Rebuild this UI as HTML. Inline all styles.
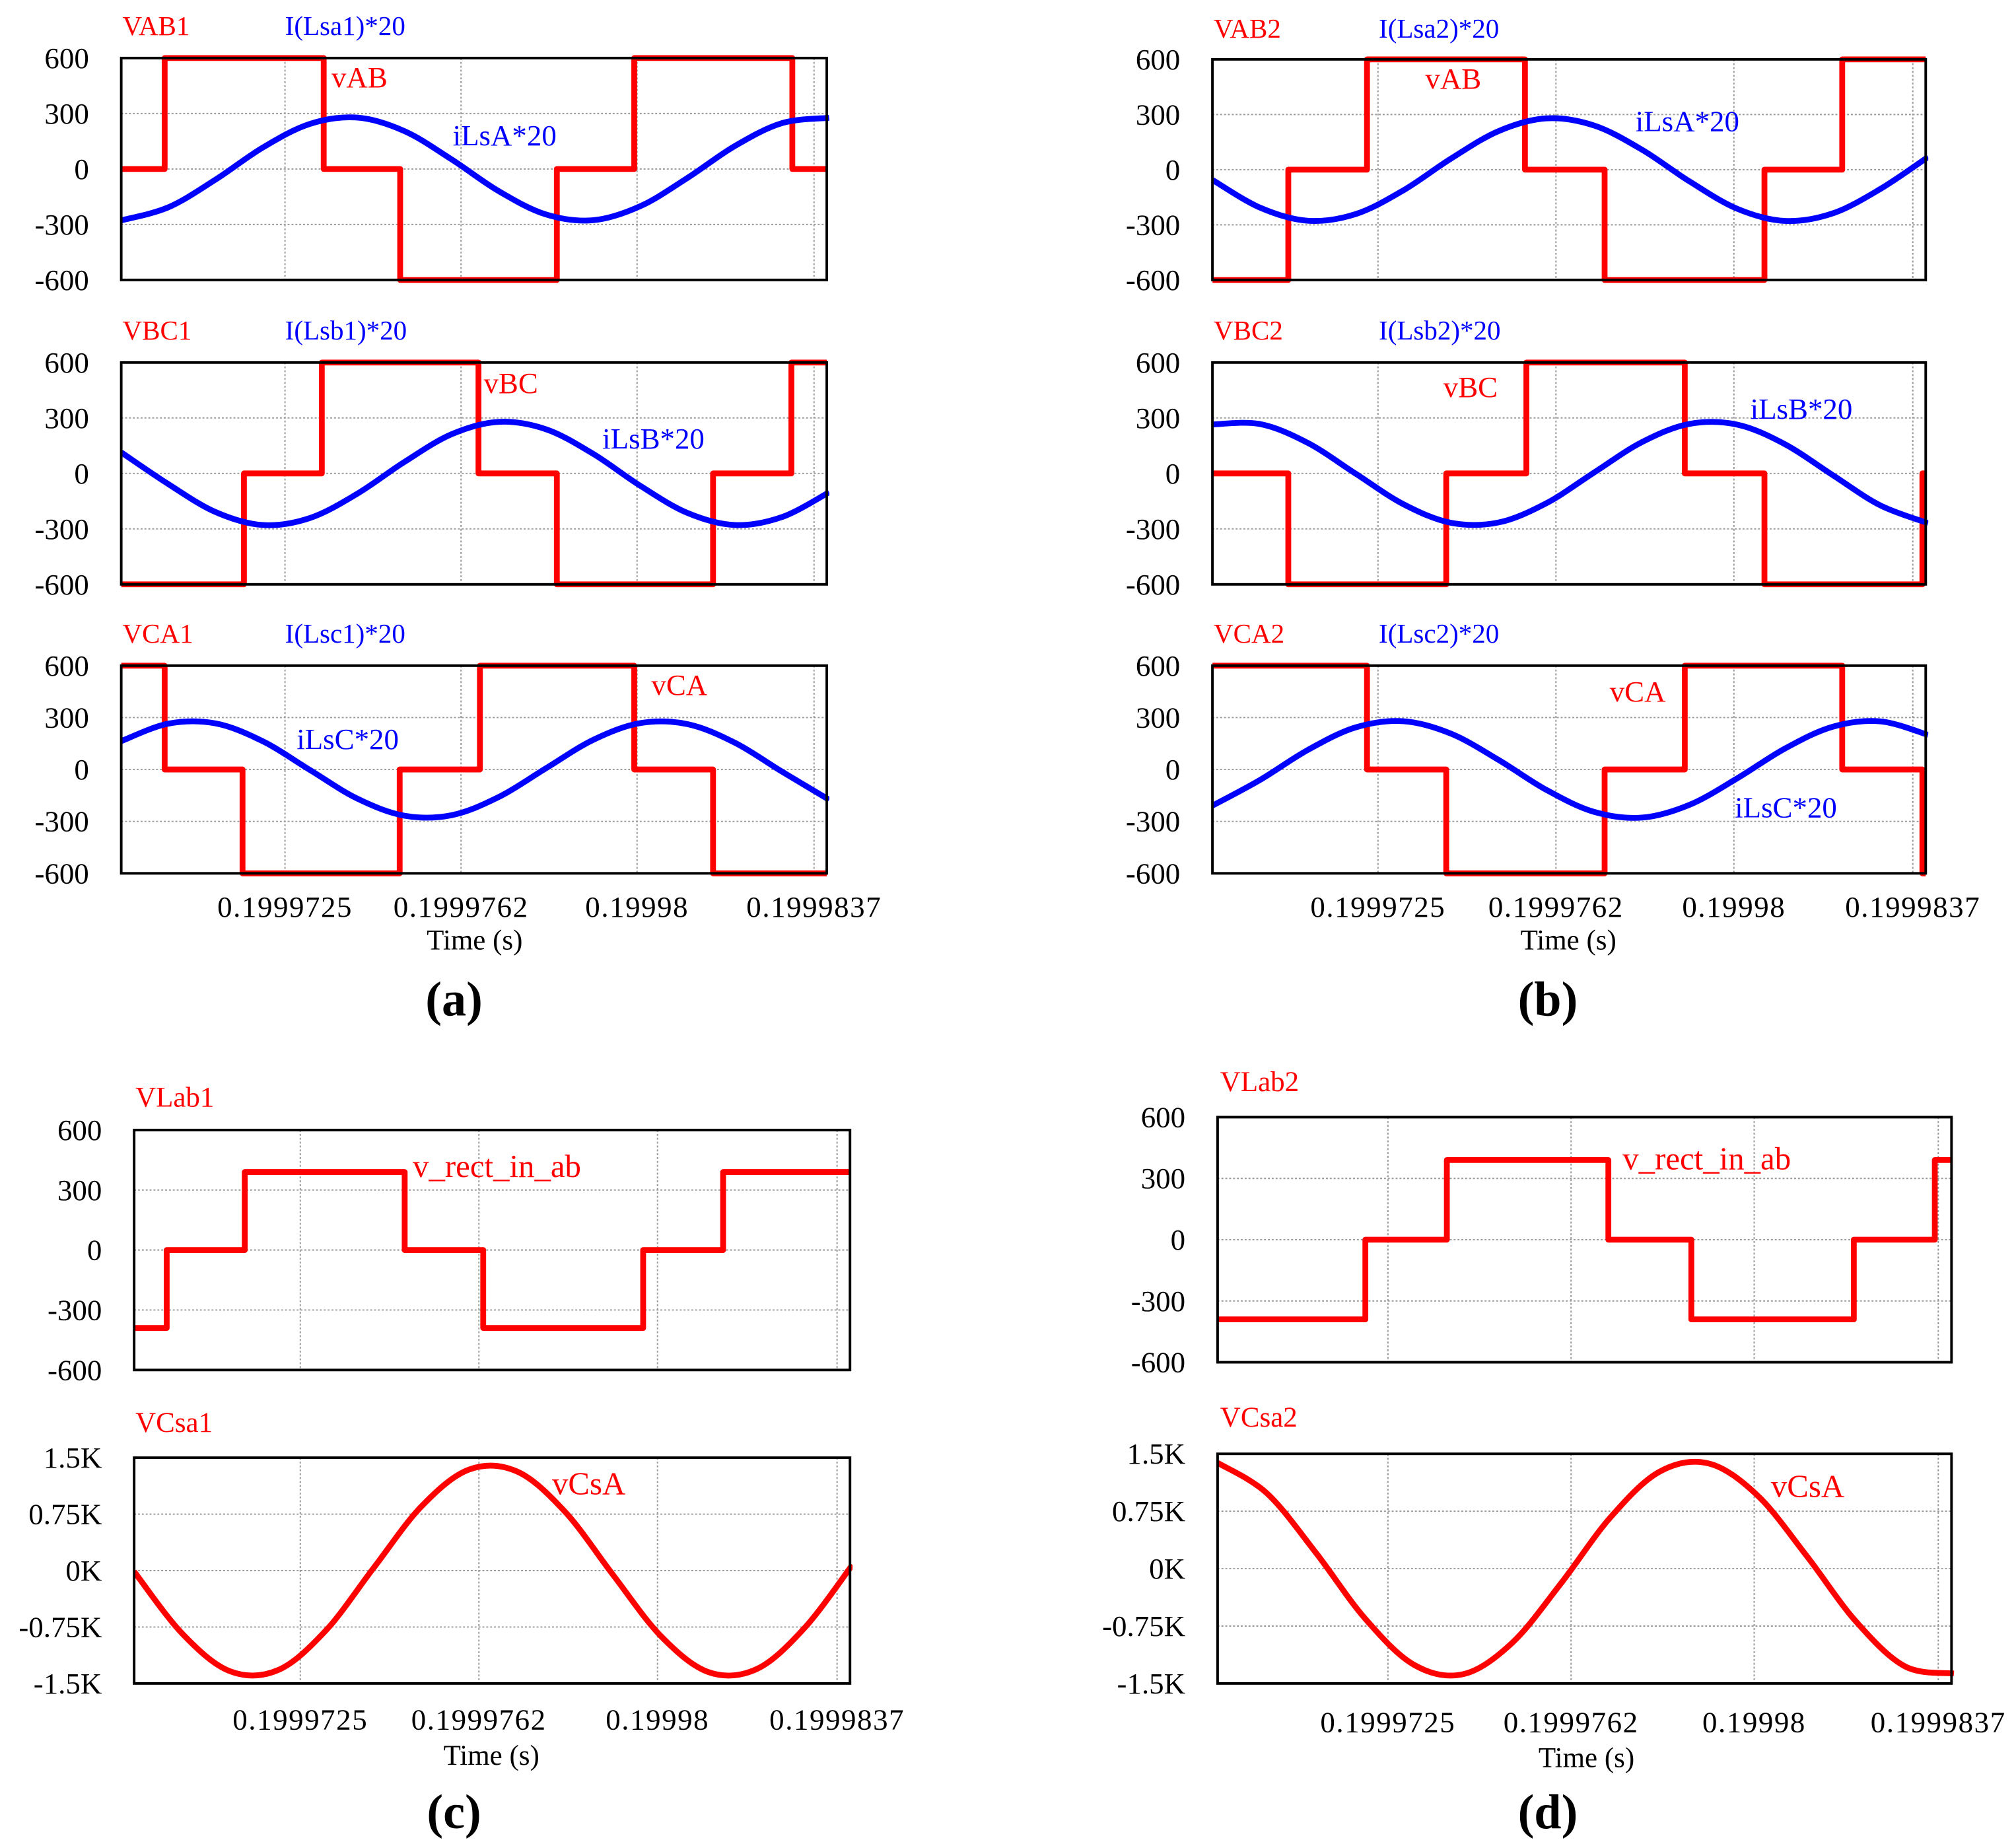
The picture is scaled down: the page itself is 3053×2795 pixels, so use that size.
<!DOCTYPE html>
<html><head><meta charset="utf-8">
<style>
html,body{margin:0;padding:0;background:#fff;}
svg{display:block;}
text{font-family:"Liberation Serif",serif;}
</style></head>
<body>
<svg id="fig" xmlns="http://www.w3.org/2000/svg" width="3053" height="2795" viewBox="0 0 1563 1431" preserveAspectRatio="none">
<rect x="0" y="0" width="1563" height="1431" fill="#fff"/>
<g id="root"></g>
</svg>
<script>
// ---- shared axis data ----
const timeRange = [0, 14.95]; // microseconds after 0.199969 s
const xTickTimes = [3.47, 7.2, 10.93, 14.68];
const xTickLabels = ['0.1999725', '0.1999762', '0.19998', '0.1999837'];
const vTicks = [600, 300, 0, -300, -600];
const vTickLabels = ['600', '300', '0', '-300', '-600'];
const kTicks = [1500, 750, 0, -750, -1500];
const kTickLabels = ['1.5K', '0.75K', '0K', '-0.75K', '-1.5K'];
const sampleT = [0,1,2,3,4,5,6,7,8,9,10,11,12,13,14,15];

// ---- panel (a) ----
const vAB1Edges = [0.92, 4.29, 5.91, 9.23, 10.87, 14.22];
const vAB1Levels = [0, 600, 0, -600, 0, 600, 0];
const vBC1Edges = [2.6, 4.25, 7.57, 9.23, 12.54, 14.2];
const vBC1Levels = [-600, 0, 600, 0, -600, 0, 600];
const vCA1Edges = [0.92, 2.57, 5.9, 7.6, 10.87, 12.54];
const vCA1Levels = [600, 0, -600, 0, 600, 0, -600];
const iLsA1 = [-278,-207,-57,116,244,278,205,52,-120,-246,-277,-201,-48,124,248,277];
const iLsB1 = [114,-58,-209,-279,-241,-110,62,212,279,239,106,-67,-214,-279,-236,-102];
const iLsC1 = [164,265,266,163,-3,-168,-267,-264,-159,7,171,268,262,155,-12,-175];

// ---- panel (b) ----
const vAB2Edges = [1.59, 3.24, 6.55, 8.22, 11.57, 13.2];
const vAB2Levels = [-600, 0, 600, 0, -600, 0, 600];
const vBC2Edges = [1.59, 4.9, 6.58, 9.9, 11.57, 14.88];
const vBC2Levels = [0, -600, 0, 600, 0, -600, 0];
const vCA2Edges = [3.24, 4.9, 8.22, 9.9, 13.2, 14.88];
const vCA2Levels = [600, 0, -600, 0, 600, 0, -600];
const iLsA2 = [-56,-207,-278,-242,-113,60,210,279,240,109,-64,-213,-279,-238,-105,69];
const iLsB2 = [265,267,165,-1,-166,-267,-265,-161,5,169,268,264,158,-9,-173,-269];
const iLsC2 = [-209,-60,113,243,279,207,55,-118,-245,-278,-204,-51,121,247,278,200];

// ---- panel (c) ----
const vLab1Edges = [0.68, 2.31, 5.65, 7.29, 10.63, 12.3];
const vLab1Levels = [-390, 0, 390, 0, -390, 0, 390];
const vCsA1 = [-13,-834,-1337,-1324,-799,34,853,1344,1316,781,-56,-870,-1350,-1309,-763,76];

// ---- panel (d) ----
const vLab2Edges = [3.01, 4.67, 7.96, 9.65, 12.96, 14.61];
const vLab2Levels = [-390, 0, 390, 0, -390, 0, 390];
const vCsA2 = [1383,987,210,-649,-1256,-1379,-970,-188,668,1266,1375,955,166,-687,-1276,-1370];

const NS = 'http://www.w3.org/2000/svg';
const root = document.getElementById('root');
const RED = '#ff0000', BLUE = '#0000ff';
let clipId = 0;

function mk(tag, attrs, parent) {
  const e = document.createElementNS(NS, tag);
  for (const k in attrs) e.setAttribute(k, attrs[k]);
  (parent || root).appendChild(e);
  return e;
}
function txt(s, x, y, size, color, anchor, name, weight) {
  const t = mk('text', {x: x, y: y, 'font-size': size, fill: color, 'text-anchor': anchor || 'start', 'dominant-baseline': 'central'});
  if (weight) t.setAttribute('font-weight', weight);
  t.textContent = s;
  
  
  return t;
}

function plot(cfg) {
  const g = mk('g', {});
  
  
  const xs = t => cfg.x0 + (t - timeRange[0]) / (timeRange[1] - timeRange[0]) * (cfg.x1 - cfg.x0);
  const ys = v => cfg.y0 + (cfg.ymax - v) / (cfg.ymax - cfg.ymin) * (cfg.y1 - cfg.y0);
  xTickTimes.forEach(t => {
    const l = mk('line', {x1: xs(t), x2: xs(t), y1: cfg.y0, y2: cfg.y1, stroke: '#999', 'stroke-width': 1, 'stroke-dasharray': '1.5 1.5'}, g);
    
    
  });
  cfg.yTicks.forEach((v, i) => {
    if (i > 0 && i < cfg.yTicks.length - 1) {
      const l = mk('line', {x1: cfg.x0, x2: cfg.x1, y1: ys(v), y2: ys(v), stroke: '#999', 'stroke-width': 1, 'stroke-dasharray': '1.5 1.5'}, g);
      
      
    }
    const t = txt(cfg.yLabels[i], cfg.x0 - 25, ys(v), 23, '#000', 'end', 'y-tick-label');
    g.appendChild(t);
  });
  const cid = 'clip' + (clipId++);
  const cp = mk('clipPath', {id: cid}, g);
  mk('rect', {x: cfg.x0, y: cfg.y0 - 3, width: cfg.x1 - cfg.x0 + 2, height: cfg.y1 - cfg.y0 + 6}, cp);
  const sg = mk('g', {'clip-path': 'url(#' + cid + ')'}, g);
  cfg.series.forEach(s => {
    let d;
    if (s.edges) {
      d = 'M' + xs(timeRange[0]) + ' ' + ys(s.levels[0]);
      s.edges.forEach((e, i) => { d += ' H' + xs(e) + ' V' + ys(s.levels[i + 1]); });
      d += ' H' + xs(timeRange[1]);
    } else {
      const P = sampleT.map((t, i) => [xs(t), ys(s.values[i])]);
      d = 'M' + P[0][0] + ' ' + P[0][1];
      for (let i = 0; i < P.length - 1; i++) {
        const p0 = P[Math.max(0, i - 1)], p1 = P[i], p2 = P[i + 1], p3 = P[Math.min(P.length - 1, i + 2)];
        const c1 = [p1[0] + (p2[0] - p0[0]) / 6, p1[1] + (p2[1] - p0[1]) / 6];
        const c2 = [p2[0] - (p3[0] - p1[0]) / 6, p2[1] - (p3[1] - p1[1]) / 6];
        d += ' C' + c1[0] + ' ' + c1[1] + ' ' + c2[0] + ' ' + c2[1] + ' ' + p2[0] + ' ' + p2[1];
      }
    }
    const p = mk('path', {d: d, fill: 'none', stroke: s.color, 'stroke-width': 4.5, 'stroke-linejoin': 'round'}, sg);
    
    
  });
  const box = mk('rect', {x: cfg.x0, y: cfg.y0, width: cfg.x1 - cfg.x0, height: cfg.y1 - cfg.y0, fill: 'none', stroke: '#000', 'stroke-width': 2}, g);
  
  
  if (cfg.xLabelY) {
    xTickLabels.forEach((s, i) => {
      const t = txt(s, xs(xTickTimes[i]), cfg.xLabelY, 23, '#000', 'middle', 'x-tick-label');
      t.setAttribute('letter-spacing', '0.8');
      g.appendChild(t);
    });
  }
}

plot({name:'plot-a-vab', x0:94, x1:641, y0:45, y1:217, ymin:-600, ymax:600, yTicks:vTicks, yLabels:vTickLabels,
  series:[{name:'vab1-line', edges:vAB1Edges, levels:vAB1Levels, color:RED},{name:'ilsa1-line', values:iLsA1, color:BLUE}]});
plot({name:'plot-a-vbc', x0:94, x1:641, y0:281, y1:453, ymin:-600, ymax:600, yTicks:vTicks, yLabels:vTickLabels,
  series:[{name:'vbc1-line', edges:vBC1Edges, levels:vBC1Levels, color:RED},{name:'ilsb1-line', values:iLsB1, color:BLUE}]});
plot({name:'plot-a-vca', x0:94, x1:641, y0:516, y1:677, ymin:-600, ymax:600, yTicks:vTicks, yLabels:vTickLabels, xLabelY:703,
  series:[{name:'vca1-line', edges:vCA1Edges, levels:vCA1Levels, color:RED},{name:'ilsc1-line', values:iLsC1, color:BLUE}]});
plot({name:'plot-b-vab', x0:940, x1:1493, y0:46, y1:217, ymin:-600, ymax:600, yTicks:vTicks, yLabels:vTickLabels,
  series:[{name:'vab2-line', edges:vAB2Edges, levels:vAB2Levels, color:RED},{name:'ilsa2-line', values:iLsA2, color:BLUE}]});
plot({name:'plot-b-vbc', x0:940, x1:1493, y0:281, y1:453, ymin:-600, ymax:600, yTicks:vTicks, yLabels:vTickLabels,
  series:[{name:'vbc2-line', edges:vBC2Edges, levels:vBC2Levels, color:RED},{name:'ilsb2-line', values:iLsB2, color:BLUE}]});
plot({name:'plot-b-vca', x0:940, x1:1493, y0:516, y1:677, ymin:-600, ymax:600, yTicks:vTicks, yLabels:vTickLabels, xLabelY:703,
  series:[{name:'vca2-line', edges:vCA2Edges, levels:vCA2Levels, color:RED},{name:'ilsc2-line', values:iLsC2, color:BLUE}]});
plot({name:'plot-c-vlab', x0:104, x1:659, y0:876, y1:1062, ymin:-600, ymax:600, yTicks:vTicks, yLabels:vTickLabels,
  series:[{name:'vlab1-line', edges:vLab1Edges, levels:vLab1Levels, color:RED}]});
plot({name:'plot-c-vcsa', x0:104, x1:659, y0:1130, y1:1305, ymin:-1500, ymax:1500, yTicks:kTicks, yLabels:kTickLabels, xLabelY:1333,
  series:[{name:'vcsa1-line', values:vCsA1, color:RED}]});
plot({name:'plot-d-vlab', x0:944, x1:1513, y0:866, y1:1056, ymin:-600, ymax:600, yTicks:vTicks, yLabels:vTickLabels,
  series:[{name:'vlab2-line', edges:vLab2Edges, levels:vLab2Levels, color:RED}]});
plot({name:'plot-d-vcsa', x0:944, x1:1513, y0:1127, y1:1305, ymin:-1500, ymax:1500, yTicks:kTicks, yLabels:kTickLabels, xLabelY:1335,
  series:[{name:'vcsa2-line', values:vCsA2, color:RED}]});

txt('VAB1', 95, 20, 21, RED, 'start', 'vab1-title');
txt('I(Lsa1)*20', 221, 20, 21, BLUE, 'start', 'ilsa1-title');
txt('vAB', 257, 60, 23, RED, 'start', 'vab-label');
txt('iLsA*20', 351, 105, 23, BLUE, 'start', 'ilsa-label');
txt('VBC1', 95, 256, 21, RED, 'start', 'vbc1-title');
txt('I(Lsb1)*20', 221, 256, 21, BLUE, 'start', 'ilsb1-title');
txt('vBC', 375, 297, 23, RED, 'start', 'vbc-label');
txt('iLsB*20', 467, 340, 23, BLUE, 'start', 'ilsb-label');
txt('VCA1', 95, 491, 21, RED, 'start', 'vca1-title');
txt('I(Lsc1)*20', 221, 491, 21, BLUE, 'start', 'ilsc1-title');
txt('iLsC*20', 230, 573, 23, BLUE, 'start', 'ilsc-label');
txt('vCA', 505, 531, 23, RED, 'start', 'vca-label');
txt('Time (s)', 368, 729, 22, '#000', 'middle', 'x-axis-title-a');
txt('(a)', 352, 775, 38, '#000', 'middle', 'panel-label-a', 'bold');

txt('VAB2', 941, 22, 21, RED, 'start', 'vab2-title');
txt('I(Lsa2)*20', 1069, 22, 21, BLUE, 'start', 'ilsa2-title');
txt('vAB', 1105, 61, 23, RED, 'start', 'vab-label-b');
txt('iLsA*20', 1268, 94, 23, BLUE, 'start', 'ilsa-label-b');
txt('VBC2', 941, 256, 21, RED, 'start', 'vbc2-title');
txt('I(Lsb2)*20', 1069, 256, 21, BLUE, 'start', 'ilsb2-title');
txt('vBC', 1119, 300, 23, RED, 'start', 'vbc-label-b');
txt('iLsB*20', 1357, 317, 23, BLUE, 'start', 'ilsb-label-b');
txt('VCA2', 941, 491, 21, RED, 'start', 'vca2-title');
txt('I(Lsc2)*20', 1069, 491, 21, BLUE, 'start', 'ilsc2-title');
txt('vCA', 1248, 536, 23, RED, 'start', 'vca-label-b');
txt('iLsC*20', 1345, 626, 23, BLUE, 'start', 'ilsc-label-b');
txt('Time (s)', 1216, 729, 22, '#000', 'middle', 'x-axis-title-b');
txt('(b)', 1200, 775, 38, '#000', 'middle', 'panel-label-b', 'bold');

txt('VLab1', 105, 851, 22, RED, 'start', 'vlab1-title');
txt('v_rect_in_ab', 320, 904, 25, RED, 'start', 'vrect-label-c');
txt('VCsa1', 105, 1103, 22, RED, 'start', 'vcsa1-title');
txt('vCsA', 428, 1150, 25, RED, 'start', 'vcsa-label-c');
txt('Time (s)', 381, 1361, 22, '#000', 'middle', 'x-axis-title-c');
txt('(c)', 352, 1405, 38, '#000', 'middle', 'panel-label-c', 'bold');

txt('VLab2', 946, 839, 22, RED, 'start', 'vlab2-title');
txt('v_rect_in_ab', 1258, 898, 25, RED, 'start', 'vrect-label-d');
txt('VCsa2', 946, 1099, 22, RED, 'start', 'vcsa2-title');
txt('vCsA', 1373, 1152, 25, RED, 'start', 'vcsa-label-d');
txt('Time (s)', 1230, 1363, 22, '#000', 'middle', 'x-axis-title-d');
txt('(d)', 1200, 1405, 38, '#000', 'middle', 'panel-label-d', 'bold');
</script>
</body></html>
